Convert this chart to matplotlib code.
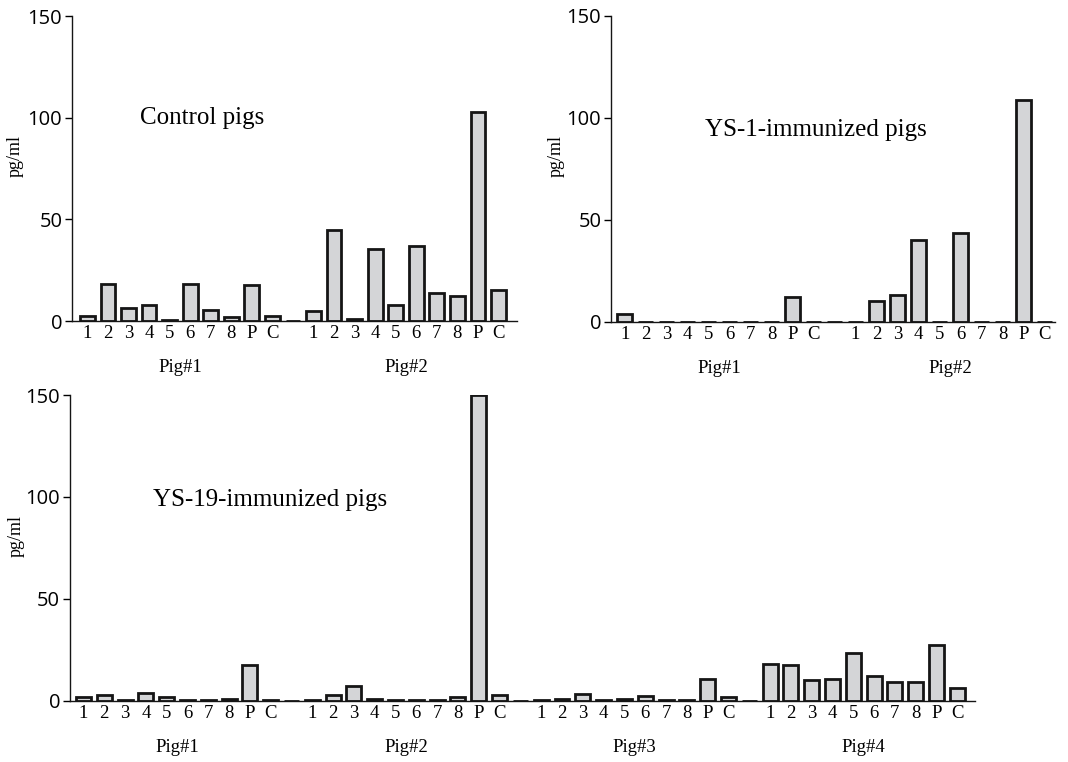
import matplotlib.pyplot as plt

# sample labels for each pig (P = positive control, C = negative control)
labels = ['1', '2', '3', '4', '5', '6', '7', '8', 'P', 'C']

# Control pigs (pg/ml)
ctrl_pig1 = [2.5, 18, 6.2, 7.8, 0.3, 18, 5.4, 2, 17.5, 2.5]
ctrl_pig2 = [4.9, 45, 1, 35.5, 7.8, 37, 13.7, 12.4, 102.8, 15.2]

# YS-1-immunized pigs
ys1_pig1 = [3.9, 0, 0, 0, 0, 0, 0, 0, 12.3, 0]
ys1_pig2 = [0, 10, 13.2, 40, 0, 43.6, 0, 0, 108.8, 0]

# YS-19-immunized pigs
ys19_pig1 = [1.8, 2.6, 0.2, 3.9, 1.8, 0.2, 0.2, 1, 17.5, 0.2]
ys19_pig2 = [0.2, 2.6, 7, 1, 0.2, 0.2, 0.2, 2, 150, 2.6]
ys19_pig3 = [0.2, 1, 3.4, 0.3, 1, 2.5, 0.3, 0.3, 10.8, 2]
ys19_pig4 = [18.2, 17.5, 10, 10.8, 23.6, 12.3, 9.3, 9.3, 27.3, 6.2]

SERIF = 'Liberation Serif'
SANS = 'Open Sans'
FILL = '#d4d5d7'


def draw_panel(ax, pigs, title, title_xy, xlim, ylab_x):
    vals, ticks = [], []
    for k, p in enumerate(pigs):
        if k > 0:
            # empty spacer slot between pigs
            vals.append(0)
            ticks.append('')
        vals.extend(p)
        ticks.extend(labels)
    x = list(range(len(vals)))
    ax.bar(x, vals, width=0.72, color=FILL, edgecolor='#151515', linewidth=2.0)

    ax.set_xlim(*xlim)
    ax.set_ylim(0, 150)
    ax.set_yticks([0, 50, 100, 150])
    ax.set_xticks(x)
    ax.set_xticklabels(ticks, fontfamily=SERIF, fontsize=13.5)
    ax.tick_params(axis='x', length=0, pad=3)
    ax.tick_params(axis='y', length=5, width=1.0, pad=2, direction='out')
    for t in ax.get_yticklabels():
        t.set_fontfamily(SANS)
        t.set_fontsize(14.5)
    for s in ['top', 'right']:
        ax.spines[s].set_visible(False)
    for s in ['left', 'bottom']:
        ax.spines[s].set_linewidth(1.0)
        ax.spines[s].set_color('#151515')

    ax.set_ylabel('pg/ml', fontfamily=SERIF, fontsize=13)
    ax.yaxis.set_label_coords(ylab_x, 0.54)

    # group labels under each pig
    for k in range(len(pigs)):
        cx = k * 11 + 4.5
        ax.text(cx, -22.8, 'Pig#%d' % (k + 1), ha='center', va='center',
                fontfamily=SERIF, fontsize=13.5, clip_on=False)

    ax.text(title_xy[0], title_xy[1], title, ha='left', va='center',
            fontfamily=SERIF, fontsize=18)


fig = plt.figure(figsize=(10.68, 7.62), dpi=100)
ax1 = fig.add_axes([0.0674, 0.5787, 0.4167, 0.4003])
ax2 = fig.add_axes([0.5721, 0.5778, 0.4157, 0.4016])
ax3 = fig.add_axes([0.0655, 0.0804, 0.8474, 0.4012])

draw_panel(ax1, [ctrl_pig1, ctrl_pig2], 'Control pigs', (2.55, 100),
           (-0.75, 20.9), -0.108)
draw_panel(ax2, [ys1_pig1, ys1_pig2], 'YS-1-immunized pigs', (3.83, 94),
           (-0.65, 20.5), -0.104)
draw_panel(ax3, [ys19_pig1, ys19_pig2, ys19_pig3, ys19_pig4],
           'YS-19-immunized pigs', (3.34, 98.6), (-0.65, 42.85), -0.05)

fig.savefig('out.png', dpi=100, facecolor='white')
